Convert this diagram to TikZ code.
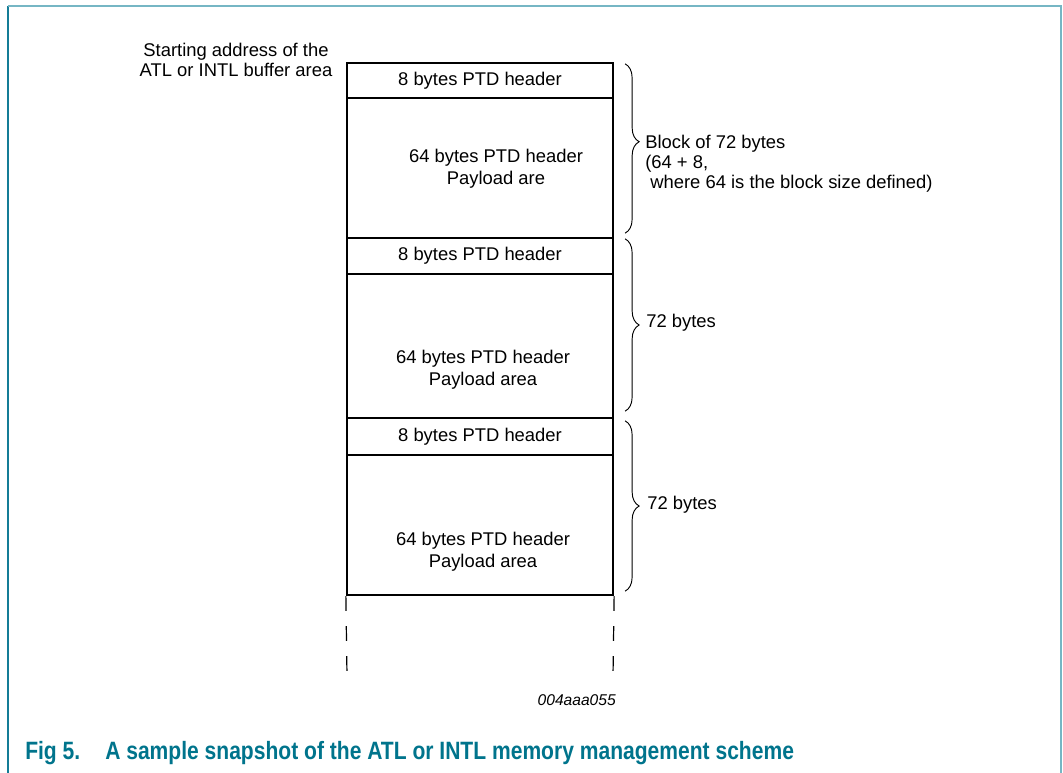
\documentclass[tikz,border=0pt]{standalone}
\usepackage{fontspec}
\setmainfont{Liberation Sans}
\newfontfamily\capfont[FakeStretch=0.84]{Liberation Sans}
\usetikzlibrary{decorations.pathreplacing}
\definecolor{figteal}{RGB}{0,116,140}
\definecolor{framedark}{RGB}{20,124,150}
\definecolor{framelight}{RGB}{118,182,196}

\begin{document}
\begin{tikzpicture}[x=0.75pt,y=-0.75pt,
    txt/.style={font=\fontsize{13.8}{15}\selectfont,inner sep=0pt},
    cell/.style={draw,line width=1.7pt,minimum width=199.5pt,inner sep=0pt,txt},
    brc/.style={decorate,decoration={brace,amplitude=10.5pt},line width=0.7pt},
    dashline/.style={line width=0.9pt,dash pattern=on 11pt off 11.5pt}]
  \useasboundingbox (0,0) rectangle (1063,773);
  \draw[framedark,line width=1.5pt] (8,773) -- (8,6);
  \draw[framelight,line width=1.5pt] (8,6) -- (1061,6) -- (1061,773);

  \node[txt,align=center] (start) at (236,60) {Starting address of the\\ATL or INTL buffer area};

  \foreach \n/\t/\m/\b in {1/63/98/238, 2/238/274/418, 3/418/455/595} {
    \node[cell,minimum height={(\m-\t)*0.75pt}] (hdr\n) at (480,{(\t+\m)/2}) {8 bytes PTD header};
    \node[cell,minimum height={(\b-\m)*0.75pt}] (pay\n) at (480,{(\m+\b)/2}) {};
  }
  \begin{scope}[txt/.append style={font=\fontsize{13.8}{16.5}\selectfont,align=center}]
    \node[txt] (load1) at (496,169) {64 bytes PTD header\\Payload are};
    \node[txt] (load2) at (483,370) {64 bytes PTD header\\Payload area};
    \node[txt] (load3) at (483,552) {64 bytes PTD header\\Payload area};
  \end{scope}

  \draw[brc,decoration={aspect=0.46}] ([xshift=8.25pt,yshift=-1.5pt]hdr1.north east) -- ([xshift=8.25pt,yshift=4.5pt]pay1.south east);
  \draw[brc] ([xshift=8.25pt,yshift=-1.5pt]hdr2.north east) -- ([xshift=8.25pt,yshift=6pt]pay2.south east);
  \draw[brc] ([xshift=8.25pt,yshift=-3pt]hdr3.north east) -- ([xshift=8.25pt,yshift=3.75pt]pay3.south east);

  \node[txt,align=left,anchor=west] (blocksize) at (645,164) {Block of 72 bytes\\(64 + 8,\\\hspace*{3.8pt}where 64 is the block size defined)};
  \node[txt,anchor=west] (size2) at (646,323) {72 bytes};
  \node[txt,anchor=west] (size3) at (647,505) {72 bytes};

  \coordinate (endL) at (347,676);
  \coordinate (endR) at (613,676);
  \draw[dashline] (pay3.south west) -- (endL);
  \draw[dashline] (pay3.south east) -- (endR);

  \node[font=\fontsize{11.7}{13}\selectfont\itshape,inner sep=0pt,anchor=east] (figid) at (616,700) {004aaa055};
  \node[font=\capfont\fontsize{18.8}{21}\selectfont\bfseries,text=figteal,inner sep=0pt,anchor=base west] (caption) at (25,759)
    {Fig 5.\hspace{18.75pt}A sample snapshot of the ATL or INTL memory management scheme};
\end{tikzpicture}
\end{document}
